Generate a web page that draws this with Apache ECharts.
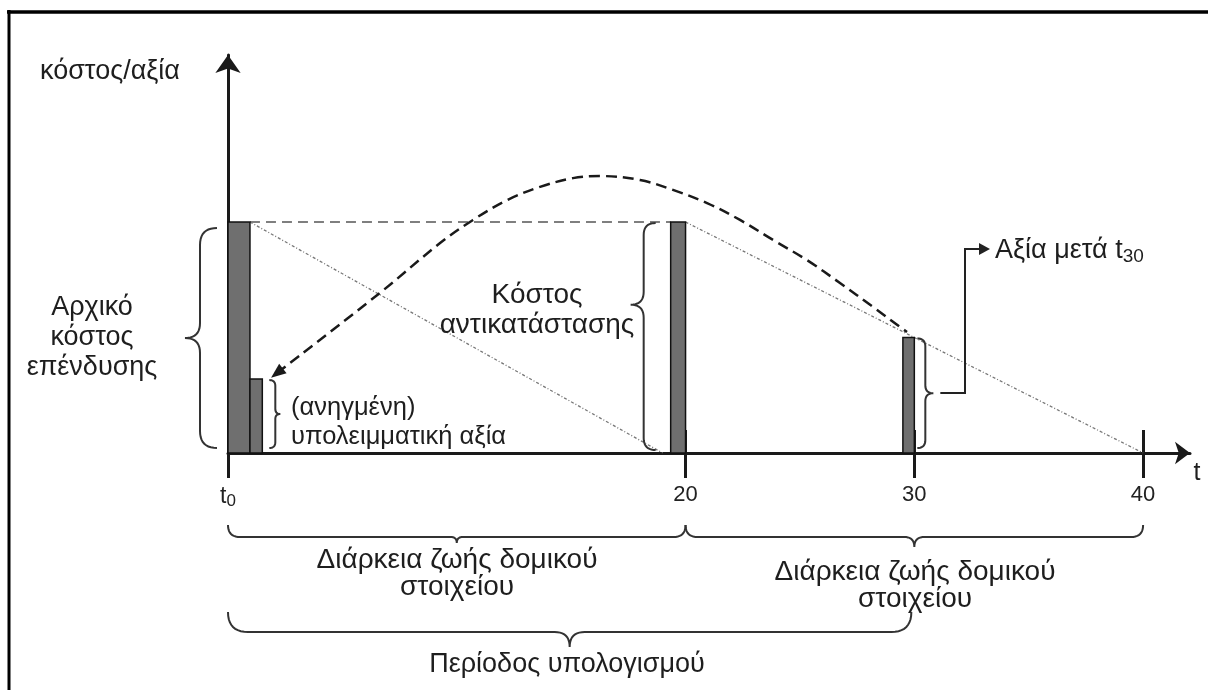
<!DOCTYPE html>
<html>
<head>
<meta charset="utf-8">
<script src="https://cdn.jsdelivr.net/npm/echarts@6/dist/echarts.min.js"></script>
<style>
html, body { margin: 0; padding: 0; background: #fff; }
#main { width: 1208px; height: 690px; }
</style>
</head>
<body>
<div id="main"></div>
<script>
// άξονας χρόνου
var tickValues = [0, 20, 30, 40];
// μπάρες: [από t, έως t, ύψος]
var bars = [
    [0, 0.96, 100],
    [0.96, 1.5, 32],
    [19.35, 20, 100],
    [29.5, 30, 50]
];
var replacementLine = [[0.96, 100], [19.35, 100]];
var depreciation1 = [[0.96, 100], [19.0, 0]];
var depreciation2 = [[20, 100], [40, 0]];
var valueCurve = [
    [2.14, 34.6], [6.64, 69.3], [9.27, 90.9], [10.71, 100.9], [12.2, 109.5],
    [13.64, 115.2], [15.08, 119.0], [16.26, 119.9], [18.01, 118.2], [19.45, 113.9],
    [20.94, 108.2], [22.38, 100.9], [23.83, 92.2], [25.31, 83.5], [26.75, 73.6],
    [28.2, 63.2], [29.38, 54.5], [29.68, 52.4]
];

var FONT = '"Liberation Sans", Arial, sans-serif';
var INK = '#1a1a1a';
var XMAX = 42.05, YMAX = 172.3;

var myChart = echarts.init(document.getElementById('main'));

option = {
    backgroundColor: '#fff',
    animation: false,
    grid: { left: 228, right: 18, top: 55, bottom: 237 },
    xAxis: [
        {
            type: 'value', min: 0, max: XMAX, position: 'bottom',
            splitLine: { show: false },
            axisLine: {
                symbol: ['none', 'arrow'], symbolSize: [17, 15],
                lineStyle: { color: INK, width: 3 }
            },
            axisTick: { customValues: tickValues, length: 25, lineStyle: { color: INK, width: 3 } },
            axisLabel: {
                customValues: tickValues, margin: 31, fontSize: 22, color: '#222', fontFamily: FONT,
                formatter: function (v) { return v === 0 ? '{t|t}{s|0}' : '' + v; },
                rich: {
                    t: { fontSize: 23, fontFamily: FONT, color: '#222', lineHeight: 26 },
                    s: { fontSize: 17, fontFamily: FONT, color: '#222', lineHeight: 14, verticalAlign: 'bottom' }
                }
            }
        },
        {
            type: 'value', min: 0, max: XMAX, position: 'bottom', offset: 0,
            splitLine: { show: false },
            axisLine: { show: false },
            axisTick: { inside: true, customValues: [20, 30, 40], length: 23, lineStyle: { color: INK, width: 3 } },
            axisLabel: { show: false }
        }
    ],
    yAxis: {
        type: 'value', min: 0, max: YMAX,
        splitLine: { show: false },
        axisTick: { show: false },
        axisLabel: { show: false },
        axisLine: {
            symbol: ['none', 'arrow'], symbolSize: [19, 18],
            lineStyle: { color: INK, width: 3 }
        }
    },
    series: [
        {
            type: 'line', data: replacementLine, symbol: 'none', silent: true,
            lineStyle: { color: '#555', width: 1.5, type: [10, 6] }, z: 2
        },
        {
            type: 'line', data: depreciation1, symbol: 'none', silent: true,
            lineStyle: { color: '#777', width: 1.3, type: [3, 2, 1, 2] }, z: 2
        },
        {
            type: 'line', data: depreciation2, symbol: 'none', silent: true,
            lineStyle: { color: '#777', width: 1.3, type: [3, 2, 1, 2] }, z: 2
        },
        {
            type: 'line', smooth: 0.35, silent: true, symbol: 'none',
            data: valueCurve.map(function (p, i) {
                return i === 0 ? {
                    value: p, symbol: 'triangle', symbolSize: [12, 15], symbolRotate: 128,
                    itemStyle: { color: INK }
                } : p;
            }),
            lineStyle: { color: INK, width: 2.5, type: [11, 6] }, z: 4
        },
        {
            type: 'custom', silent: true, z: 3,
            data: bars,
            encode: { x: [0, 1], y: 2 },
            renderItem: function (params, api) {
                var a = api.coord([api.value(0), api.value(2)]);
                var b = api.coord([api.value(1), 0]);
                return {
                    type: 'rect',
                    shape: { x: a[0], y: a[1], width: b[0] - a[0], height: b[1] - a[1] },
                    style: { fill: '#6f6f6f', stroke: '#111', lineWidth: 1.5 }
                };
            }
        }
    ]
};

myChart.setOption(option);

// άγκιστρα και σχόλια
function px(x, y) { return myChart.convertToPixel({ gridIndex: 0 }, [x, y]); }

// άγκιστρο ως τεθλασμένη γραμμή (δείγματα από καμπύλες Bezier)
function bracePoints(p0, p1, hook, tip, frac) {
    var dx = p1[0] - p0[0], dy = p1[1] - p0[1], L = Math.sqrt(dx * dx + dy * dy);
    var ux = dx / L, uy = dy / L, vx = uy, vy = -ux;
    function P(u, v) { return [p0[0] + u * ux + v * vx, p0[1] + u * uy + v * vy]; }
    var r = Math.min(Math.abs(hook), L / 6), m = L * frac, rt = Math.min(Math.abs(tip), L / 6);
    var pts = [];
    function quad(a, c, b) {
        for (var i = 0; i <= 10; i++) {
            var t = i / 10, s = 1 - t;
            pts.push([s * s * a[0] + 2 * s * t * c[0] + t * t * b[0], s * s * a[1] + 2 * s * t * c[1] + t * t * b[1]]);
        }
    }
    quad(P(0, hook), P(0, 0), P(r, 0));
    quad(P(m - rt, 0), P(m, 0), P(m, tip));
    quad(P(m, tip), P(m, 0), P(m + rt, 0));
    quad(P(L - r, 0), P(L, 0), P(L, hook));
    return pts;
}

function brace(p0, p1, hook, tip, frac) {
    return {
        type: 'polyline', silent: true, z: 10,
        shape: { points: bracePoints(p0, p1, hook, tip, frac) },
        style: { fill: 'none', stroke: '#333', lineWidth: 2 }
    };
}

function label(text, x, y, align, lh, size) {
    return {
        type: 'text', silent: true, z: 10, x: x, y: y,
        style: {
            text: text, fill: '#1e1e1e', font: (size || 27) + 'px ' + FONT,
            align: align || 'center', verticalAlign: 'middle', lineHeight: lh || 30
        }
    };
}

var o = px(0, 0), top0 = px(0, 100);
var b2 = px(1.5, 32), r20 = px(19.35, 100), t20 = px(20, 0);
var b30 = px(30, 50), t40 = px(40, 0);
var yb = o[1];

var g = [
    // πλαίσιο
    { type: 'line', silent: true, shape: { x1: 7, y1: 12, x2: 1208, y2: 12 }, style: { stroke: '#000', lineWidth: 3.5 } },
    { type: 'line', silent: true, shape: { x1: 9, y1: 10, x2: 9, y2: 690 }, style: { stroke: '#000', lineWidth: 3 } },

    brace([o[0] - 28, top0[1] + 6], [o[0] - 28, yb - 5], 17, -15, 0.5),
    brace([b2[0] + 13, b2[1] + 1], [b2[0] + 13, yb - 5], -6, 5, 0.5),
    brace([r20[0] - 27, r20[1] + 1], [r20[0] - 27, yb - 3], 12, -13, 0.36),
    brace([b30[0] + 11, b30[1] + 1], [b30[0] + 11, yb - 5], -8, 8, 0.5),
    brace([o[0], yb + 84], [t20[0], yb + 84], 12, -6, 0.5),
    brace([t20[0], yb + 84], [t40[0], yb + 84], 12, -10, 0.5),
    brace([o[0], yb + 179], [b30[0] - 3, yb + 179], 20, -15, 0.5),

    // σύνδεση προς «Αξία μετά t30»
    {
        type: 'polyline', silent: true, z: 10,
        shape: { points: [[b30[0] + 26, 393], [965, 393], [965, 249], [982, 249]] },
        style: { fill: 'none', stroke: '#222', lineWidth: 2 }
    },
    {
        type: 'polygon', silent: true, z: 10,
        shape: { points: [[990, 249], [979, 243], [979, 255]] },
        style: { fill: '#222' }
    },

    label('κόστος/αξία', 40, 72, 'left', 30, 27),
    label('Αρχικό\nκόστος\nεπένδυσης', 92, 338, 'center', 30, 27),
    label('Κόστος\nαντικατάστασης', 537, 310, 'center', 30, 28),
    label('(ανηγμένη)\nυπολειμματική αξία', 291, 422, 'left', 29, 25.5),
    {
        type: 'text', silent: true, z: 10, x: 995, y: 251,
        style: {
            text: '{a|Αξία μετά t}{b|30}', align: 'left', verticalAlign: 'middle',
            rich: {
                a: { font: '27px ' + FONT, fill: '#1e1e1e', lineHeight: 30 },
                b: { font: '19px ' + FONT, fill: '#1e1e1e', lineHeight: 17, verticalAlign: 'bottom' }
            }
        }
    },
    label('t', 1197, 473, 'center', 26, 25),
    label('Διάρκεια ζωής δομικού\nστοιχείου', 457, 574, 'center', 27, 28),
    label('Διάρκεια ζωής δομικού\nστοιχείου', 915, 586, 'center', 27, 28),
    label('Περίοδος υπολογισμού', 567, 665, 'center', 30, 27)
];

myChart.setOption({ graphic: { elements: g } });
</script>
</body>
</html>
